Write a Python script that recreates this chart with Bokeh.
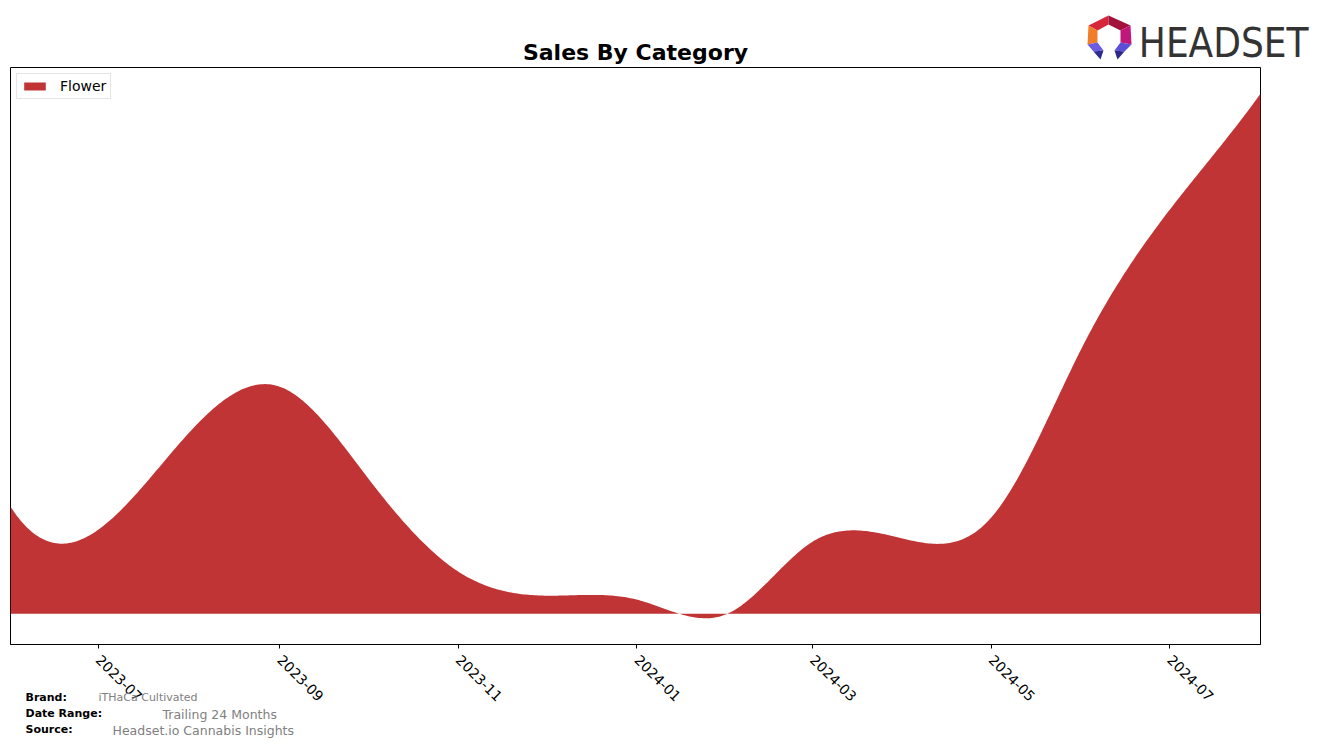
import numpy as np
import pandas as pd
from bokeh.plotting import figure
from bokeh.layouts import column
from bokeh.models import Range1d, FixedTicker, DatetimeTickFormatter
from bokeh.core.properties import value
from bokeh.embed import file_html
from bokeh.resources import INLINE

# ---------------- data ----------------
months = ["2023-06", "2023-07", "2023-08", "2023-09", "2023-10", "2023-11", "2023-12",
          "2024-01", "2024-02", "2024-03", "2024-04", "2024-05", "2024-06", "2024-07", "2024-08"]
flower_sales = [107, 84, 181, 227, 136, 42, 18, 14, 0, 72, 75, 96, 266, 404, 520]
tick_labels = ["2023-07", "2023-09", "2023-11", "2024-01", "2024-03", "2024-05", "2024-07"]
category = "Flower"
footer_keys = ["Brand:", "Date Range:", "Source:"]
footer_vals = ["iTHaCa Cultivated", "Trailing 24 Months", "Headset.io Cannabis Insights"]

FONT = "DejaVu Sans"
RED = "#c13435"

W, H = 1324, 746
L, R, T, B = 10, 64, 67, 102  # frame borders


def spline(x, y, xs):
    x = np.asarray(x, float); y = np.asarray(y, float)
    n = len(x); h = np.diff(x)
    A = np.zeros((n, n)); b = np.zeros(n)
    A[0, 0] = -h[1]; A[0, 1] = h[0] + h[1]; A[0, 2] = -h[0]
    for i in range(1, n - 1):
        A[i, i - 1] = h[i - 1]; A[i, i] = 2 * (h[i - 1] + h[i]); A[i, i + 1] = h[i]
        b[i] = 6 * ((y[i + 1] - y[i]) / h[i] - (y[i] - y[i - 1]) / h[i - 1])
    A[-1, -3] = -h[-1]; A[-1, -2] = h[-2] + h[-1]; A[-1, -1] = -h[-2]
    M = np.linalg.solve(A, b)
    i = np.clip(np.searchsorted(x, xs, side="right") - 1, 0, n - 2)
    hi = h[i]; t1 = x[i + 1] - xs; t0 = xs - x[i]
    return (M[i] * t1 ** 3 / (6 * hi) + M[i + 1] * t0 ** 3 / (6 * hi)
            + (y[i] / hi - M[i] * hi / 6) * t1 + (y[i + 1] / hi - M[i + 1] * hi / 6) * t0)


dates = pd.to_datetime(months)
days = np.array([(d - dates[0]).days for d in dates], float)
xs_days = np.linspace(days[0], days[-1], 600)
ys = spline(days, flower_sales, xs_days)
xs = dates[0] + pd.to_timedelta(xs_days, unit="D")

ymin = min(ys.min(), 0); ymax = max(ys.max(), 0)
pad = (ymax - ymin) * 0.05

p = figure(width=W, height=H, x_axis_type="datetime", output_backend="svg",
           toolbar_location=None, title="Sales By Category",
           x_range=Range1d(dates[0], dates[-1]),
           y_range=Range1d(ymin - pad, ymax + pad),
           min_border_left=L, min_border_right=R, min_border_top=T, min_border_bottom=B)

p.title.align = "center"
p.title.text_font = FONT
p.title.text_font_size = "22px"
p.title.text_font_style = "bold"
p.title.text_color = "black"
p.title.standoff = 5

p.varea(x=xs, y1=0, y2=ys, fill_color=RED, legend_label=category)

p.grid.visible = False
p.yaxis.visible = False
p.outline_line_color = "black"
p.outline_line_width = 1
p.background_fill_color = "white"
p.border_fill_color = "white"

tick_ms = [pd.Timestamp(t).value // 10 ** 6 for t in tick_labels]
ax = p.xaxis[0]
ax.ticker = FixedTicker(ticks=tick_ms)
ax.formatter = DatetimeTickFormatter(years="%Y-%m", months="%Y-%m", days="%Y-%m", hours="%Y-%m")
ax.major_label_orientation = -np.pi / 4
ax.major_label_standoff = 9
ax.major_label_text_font = FONT
ax.major_label_text_font_size = "14px"
ax.major_label_text_color = "black"
ax.major_tick_in = 0
ax.major_tick_out = 4
ax.major_tick_line_color = "black"
ax.minor_tick_line_color = None
ax.axis_line_color = "black"

lg = p.legend[0]
lg.location = "top_left"
lg.margin = 6
lg.padding = 4
lg.label_text_font = FONT
lg.label_text_font_size = "14px"
lg.label_text_color = "black"
lg.glyph_width = 27
lg.glyph_height = 10
lg.label_height = 13
lg.label_standoff = 12
lg.border_line_color = "#cccccc"
lg.border_line_width = 1
lg.background_fill_alpha = 0.8

# ---------------- transparent overlay for footer + logo (canvas pixel coords, y down) ----
ov = figure(width=W, height=H, output_backend="svg", toolbar_location=None,
            x_range=Range1d(0, W), y_range=Range1d(H, 0),
            x_axis_location=None, y_axis_location=None,
            min_border_left=0, min_border_right=0, min_border_top=0, min_border_bottom=0,
            background_fill_color=None, border_fill_color=None, outline_line_color=None)
ov.grid.visible = False
has_fa = "frame_align" in ov.properties()
if has_fa:
    ov.frame_align = False
    p.frame_align = False

BL = 0.33  # baseline correction (fraction of font size)

ov.text(x=[25, 25, 25], y=[701 - 11 * BL, 717 - 11 * BL, 733 - 11 * BL], text=footer_keys,
        text_font=value(FONT), text_font_size="11px", text_font_style="bold",
        text_color="black", text_baseline="alphabetic", text_align="left")
ov.text(x=[98], y=[701 - 11 * BL], text=footer_vals[:1],
        text_font=value(FONT), text_font_size="11px",
        text_color="#808080", text_baseline="alphabetic", text_align="left")
ov.text(x=[162, 112], y=[718 - 12.5 * BL, 734 - 12.5 * BL], text=footer_vals[1:],
        text_font=value(FONT), text_font_size="12.5px",
        text_color="#808080", text_baseline="alphabetic", text_align="left")

ov.text(x=[1308], y=[56 - 40 * BL], text=["HEADSET"],
        text_font=value("DejaVu Sans Condensed"), text_font_size="40px",
        text_color="#333333", text_baseline="alphabetic", text_align="right")

logo_xs = [[1088, 1108, 1108, 1097], [1108, 1130, 1120, 1108], [1088, 1097, 1097, 1087],
           [1130, 1131, 1120, 1120], [1087, 1097, 1103, 1093], [1093, 1103, 1100],
           [1131, 1120, 1114, 1124], [1124, 1114, 1117]]
logo_ys = [[25, 15, 24, 30], [15, 25, 30, 24], [25, 30, 42, 44], [25, 44, 42, 30],
           [44, 42, 50, 51], [51, 50, 59], [44, 42, 50, 51], [51, 50, 59]]
logo_cs = ["#d6263a", "#a3123a", "#f07d2a", "#c0177c", "#6b5ce0", "#2d2d8f", "#5a4fd6", "#2a2a86"]
ov.patches(xs=logo_xs, ys=logo_ys, fill_color=logo_cs, line_color=None)

if has_fa:
    ov.margin = (-H, 0, 0, 0)
    layout = column(p, ov, spacing=0)
else:
    inner = column(ov)
    inner.margin = (-H, 0, 0, 0)
    layout = column(p, inner, spacing=0)

open("out.html", "w").write(file_html(layout, INLINE))
